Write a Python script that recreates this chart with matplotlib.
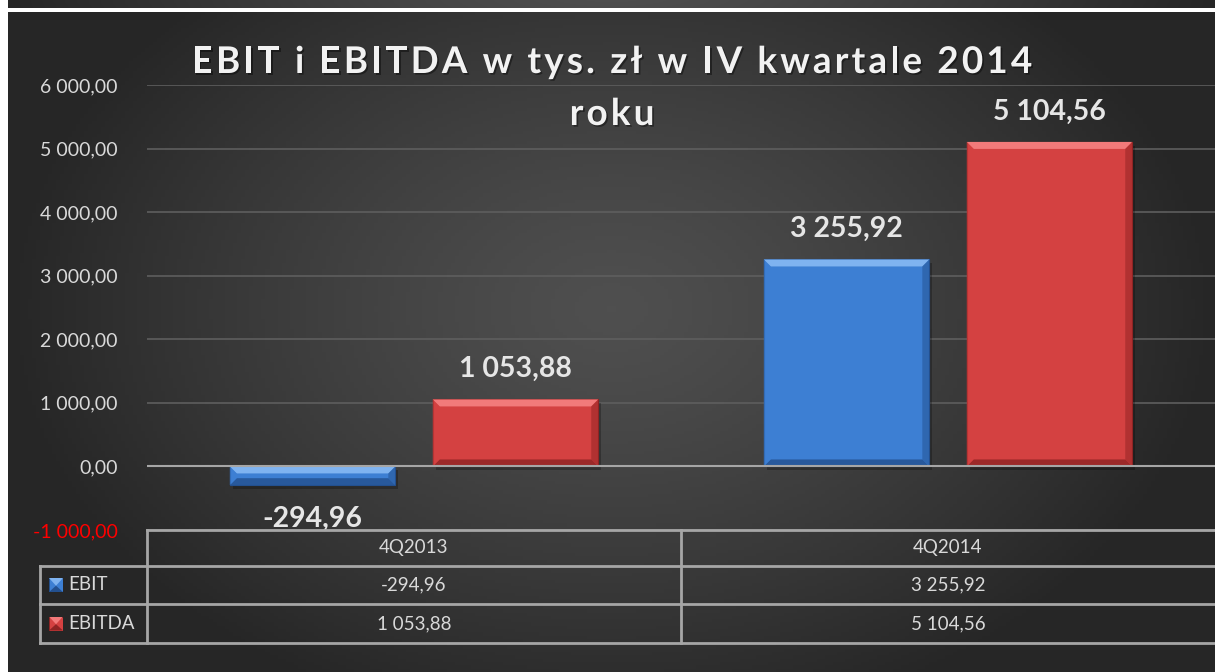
import numpy as np
import matplotlib
matplotlib.use("Agg")
import matplotlib.pyplot as plt
import matplotlib.patheffects as pe
from matplotlib.font_manager import FontProperties
from matplotlib.patches import Polygon, Rectangle
from matplotlib.transforms import blended_transform_factory

# data
categories = ["4Q2013", "4Q2014"]
series_names = ["EBIT", "EBITDA"]
ebit = [-294.96, 3255.92]
ebitda = [1053.88, 5104.56]
y_ticks = [-1000, 0, 1000, 2000, 3000, 4000, 5000, 6000]
title_lines = ["EBIT i EBITDA w tys. zł w IV kwartale 2014", "roku"]

FONT = ["Lato", "DejaVu Sans"]
plt.rcParams["font.family"] = FONT

W, H = 1215, 672
fig = plt.figure(figsize=(W / 100, H / 100), dpi=100, facecolor="white")


def fmt(v):
    s = f"{v:,.2f}"
    return s.replace(",", " ").replace(".", ",")


def gradient(nx, ny):
    xx, yy = np.meshgrid(np.linspace(-1, 1, nx), np.linspace(-1, 1, ny))
    r = np.sqrt(((xx - 0.0) / 1.0) ** 2 + ((yy + 0.1) / 1.3) ** 2)
    r = np.clip(r, 0, 1)
    v = 0.31 - 0.16 * r ** 1.3
    return np.dstack([v, v, v])


# background panels
bg = fig.add_axes([8 / W, 0, 1 - 8 / W, (H - 12) / H])
bg.imshow(gradient(300, 200), aspect="auto", extent=[0, 1, 0, 1])
bg.axis("off")
strip = fig.add_axes([8 / W, (H - 8) / H, 1 - 8 / W, 8 / H])
strip.imshow(gradient(300, 200)[95:105], aspect="auto", extent=[0, 1, 0, 1])
strip.axis("off")

# main plot area
ax_l, ax_r, ax_top, ax_bot = 147, 1215, 85, 530
ax = fig.add_axes([ax_l / W, 1 - ax_bot / H, (ax_r - ax_l) / W, (ax_bot - ax_top) / H])
ax.set_facecolor("none")
ax.set_xlim(-0.5, 1.5)
ax.set_ylim(-1000, 6000)
for s in ax.spines.values():
    s.set_visible(False)
ax.set_xticks([])
ax.set_yticks(y_ticks)
ax.set_yticklabels([fmt(t) for t in y_ticks])
ax.tick_params(axis="y", length=0, pad=21, labelsize=14, labelcolor="#d9d9d9")
ax.get_yticklabels()[0].set_color("#ff0000")
ax.grid(axis="y", color="#5e5e5e", linewidth=1.2)
ax.set_axisbelow(True)
ax.axhline(0, color="#a6a6a6", linewidth=1.5, zorder=6)

x = np.arange(len(categories))
width = 0.31
offset = 0.19
colors = {"EBIT": ("#3d7fd3", "#7fb3f0", "#23508f"),
          "EBITDA": ("#d44141", "#f27a7a", "#8f2323")}

px_x = 2.0 / (ax_r - ax_l)
px_y = 7000.0 / (ax_bot - ax_top)
bev = 7


def bevel_bar(xc, val, col):
    base, light, dark = col
    left, right = xc - width / 2, xc + width / 2
    lo, hi = min(0, val), max(0, val)
    ax.add_patch(Rectangle((left + 3 * px_x, lo - 4 * px_y), width, hi - lo,
                           facecolor="black", alpha=0.25, edgecolor="none", zorder=2))
    ax.bar(xc, val, width, color=base, edgecolor=dark, linewidth=0.8, zorder=3)
    bx, by = bev * px_x, min(bev * px_y, (hi - lo) / 2.5)
    top = Polygon([[left, hi], [right, hi], [right - bx, hi - by], [left + bx, hi - by]],
                  closed=True, facecolor=light, edgecolor="none", zorder=4)
    bottom = Polygon([[left, lo], [right, lo], [right - bx, lo + by], [left + bx, lo + by]],
                     closed=True, facecolor=dark, edgecolor="none", alpha=0.8, zorder=4)
    lside = Polygon([[left, lo], [left, hi], [left + bx, hi - by], [left + bx, lo + by]],
                    closed=True, facecolor=base, edgecolor="none", alpha=0.6, zorder=4)
    rside = Polygon([[right, lo], [right, hi], [right - bx, hi - by], [right - bx, lo + by]],
                    closed=True, facecolor=dark, edgecolor="none", alpha=0.5, zorder=4)
    for p in (top, bottom, lside, rside):
        ax.add_patch(p)


for i, xc in enumerate(x):
    for name, vals, sgn in (("EBIT", ebit, -1), ("EBITDA", ebitda, 1)):
        v = vals[i]
        bx = xc + sgn * offset
        bevel_bar(bx, v, colors[name])
        dy = 22 if v >= 0 else -24
        ax.annotate(fmt(v), (bx, v), xytext=(0, dy), textcoords="offset points",
                    ha="center", va="center", fontsize=20.5, fontweight="bold",
                    color="#e6e6e6", zorder=7)

# title, drawn char by char to get the wide letter spacing of the original
renderer = fig.canvas.get_renderer()
tprop = FontProperties(family=FONT, weight="bold", size=26.5)
shadow = [pe.withSimplePatchShadow(offset=(1.2, -1.2), shadow_rgbFace="black", alpha=0.4)]


def text_w(s):
    return renderer.get_text_width_height_descent(s, tprop, ismath=False)[0]


def spaced_title(line, cx, cy, track):
    ref = text_w("I")
    lefts = [text_w(line[:i] + "I") - ref if i else 0.0 for i in range(len(line))]
    total = text_w(line) + track * (len(line) - 1)
    x0 = cx - total / 2
    for i, ch in enumerate(line):
        if ch == " ":
            continue
        fig.text((x0 + lefts[i] + track * i) / W, 1 - cy / H, ch, fontproperties=tprop,
                 ha="left", va="baseline", color="#f2f2f2", path_effects=shadow)


spaced_title(title_lines[0], 612, 73, 3.2)
spaced_title(title_lines[1], 612, 125, 3.2)

# data table below the axis
row_y = [530, 566, 604, 643]
tcol = "#a6a6a6"
trans = blended_transform_factory(ax.transData, fig.transFigure)
edges = [-0.5, 0.5, 1.5]


def fy(py):
    return 1 - py / H


fig.add_artist(plt.Line2D([ax_l / W, 1], [fy(row_y[0])] * 2, color=tcol, lw=2))
for py in row_y[1:]:
    fig.add_artist(plt.Line2D([40 / W, 1], [fy(py)] * 2, color=tcol, lw=2))
fig.add_artist(plt.Line2D([40 / W, 40 / W], [fy(row_y[1]), fy(row_y[3])], color=tcol, lw=2))
for e in edges[:2]:
    ax.plot([e, e], [fy(row_y[0]), fy(row_y[3])], color=tcol, lw=2,
            transform=trans, clip_on=False)

for i, cat in enumerate(categories):
    ax.text(x[i], fy((row_y[0] + row_y[1]) / 2), cat, transform=trans, ha="center",
            va="center", fontsize=13.5, color="#d9d9d9")
    for r, vals in enumerate((ebit, ebitda)):
        ax.text(x[i], fy((row_y[r + 1] + row_y[r + 2]) / 2), fmt(vals[i]), transform=trans,
                ha="center", va="center", fontsize=13.5, color="#d9d9d9")

for r, name in enumerate(series_names):
    cy = fy((row_y[r + 1] + row_y[r + 2]) / 2)
    base, light, dark = colors[name]
    sq = fig.add_axes([49 / W, cy - 7 / H, 14 / W, 14 / H])
    sq.set_xlim(0, 1)
    sq.set_ylim(0, 1)
    sq.axis("off")
    sq.add_patch(Rectangle((0, 0), 1, 1, facecolor=base, edgecolor=dark, lw=0.6))
    sq.add_patch(Polygon([[0, 1], [1, 1], [0.5, 0.45]], facecolor=light, edgecolor="none"))
    sq.add_patch(Polygon([[0, 0], [1, 0], [0.5, 0.45]], facecolor=dark, edgecolor="none"))
    fig.text(68 / W, cy, name, ha="left", va="center", fontsize=13.5, color="#d9d9d9")

fig.savefig("out.png", dpi=100, facecolor=fig.get_facecolor())
